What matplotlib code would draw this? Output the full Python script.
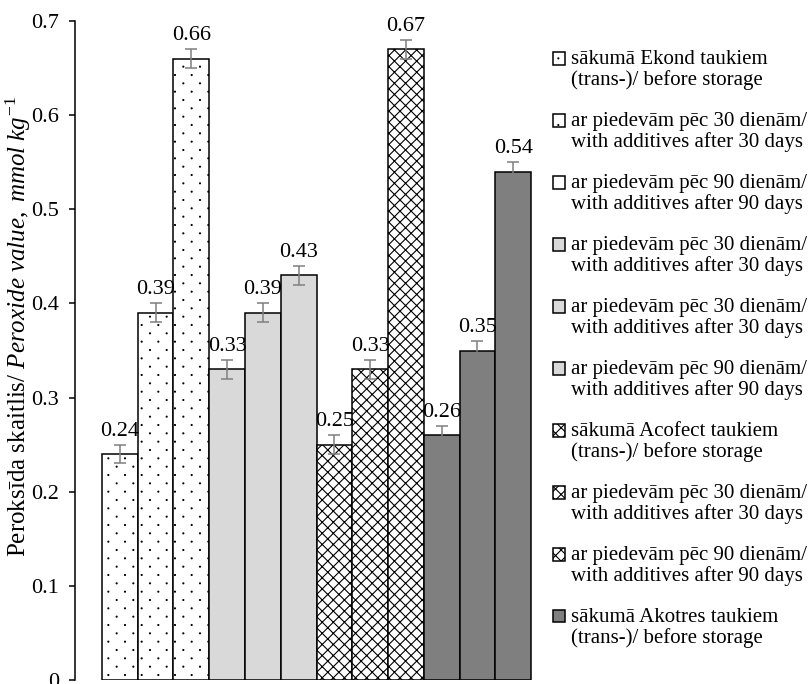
import numpy as np
import matplotlib
matplotlib.use("Agg")
import matplotlib.pyplot as plt
from matplotlib import hatch as mhatch
from matplotlib.path import Path
from matplotlib.patches import Rectangle
from matplotlib.container import BarContainer
from matplotlib.legend_handler import HandlerPatch, update_from_first_child

# peroxide value of the fats, 4 fats x 3 storage stages
values = [0.24, 0.39, 0.66, 0.33, 0.39, 0.43, 0.25, 0.33, 0.67, 0.26, 0.35, 0.54]
errors = [0.01] * 12

fill_colors = ["white"] * 3 + ["#d9d9d9"] * 3 + ["white"] * 3 + ["#7f7f7f"] * 3
hatches = ["."] * 3 + [None] * 3 + ["xxx"] * 3 + [None] * 3

lbl_start_ekond = "sākumā Ekond taukiem\n(trans-)/ before storage"
lbl_start_acofect = "sākumā Acofect taukiem\n(trans-)/ before storage"
lbl_start_akotres = "sākumā Akotres taukiem\n(trans-)/ before storage"
lbl_30 = "ar piedevām pēc 30 dienām/\nwith additives after 30 days"
lbl_90 = "ar piedevām pēc 90 dienām/\nwith additives after 90 days"
legend_labels = [lbl_start_ekond, lbl_30, lbl_90,
                 lbl_30, lbl_30, lbl_90,
                 lbl_start_acofect, lbl_30, lbl_90,
                 lbl_start_akotres, "_nolegend_", "_nolegend_"]

yticks = [0, 0.1, 0.2, 0.3, 0.4, 0.5, 0.6, 0.7]
ytick_labels = ["0", "0.1", "0.2", "0.3", "0.4", "0.5", "0.6", "0.7"]


# '.' hatch as small dots, rows twice as dense as columns, every other row shifted
class StaggeredDots(mhatch.HatchPatternBase):
    radius = 0.005

    def __init__(self, hatch, density):
        n = hatch.count('.') * density
        self.centres = []
        if n:
            for row in range(2 * n + 1):
                if row % 2 == 0:
                    cols = np.linspace(0, 1, n + 1)
                else:
                    cols = np.linspace(0.5 / n, 1 - 0.5 / n, n)
                self.centres += [(c, row / (2 * n)) for c in cols]
        circle = Path.unit_circle()
        self.dot_verts = circle.vertices * self.radius
        self.dot_codes = circle.codes
        self.num_vertices = len(self.centres) * len(self.dot_verts)

    def set_vertices_and_codes(self, vertices, codes):
        k = len(self.dot_verts)
        for i, (cx, cy) in enumerate(self.centres):
            vertices[i * k:(i + 1) * k] = self.dot_verts + [cx, cy]
            codes[i * k:(i + 1) * k] = self.dot_codes


mhatch._hatch_types[mhatch._hatch_types.index(mhatch.SmallFilledCircles)] = StaggeredDots

plt.rcParams['font.family'] = ['Liberation Serif', 'DejaVu Serif']
plt.rcParams['mathtext.fontset'] = 'custom'
plt.rcParams['mathtext.rm'] = 'Liberation Serif'
plt.rcParams['mathtext.it'] = 'Liberation Serif:italic'
plt.rcParams['hatch.linewidth'] = 0.8
plt.rcParams['hatch.color'] = 'black'

fig = plt.figure(figsize=(8.08, 6.84), dpi=100)
ax = fig.add_axes([75 / 808, 4 / 684, 483 / 808, 659 / 684])

x = np.arange(len(values))
for i in x:
    ax.bar(x[i], values[i], width=1.0, color=fill_colors[i], hatch=hatches[i],
           edgecolor="black", linewidth=1.1, label=legend_labels[i])

ax.errorbar(x, values, yerr=errors, fmt="none", ecolor="#7f7f7f",
            elinewidth=1.1, capsize=4.3, capthick=1.1)

for xi, v in zip(x, values):
    ax.annotate(f"{v:.2f}", (xi, v), xytext=(0, 16.5), textcoords="offset points",
                ha="center", va="center", fontsize=16)

ax.set_xlim(-1.255, 12.255)
ax.set_ylim(0, 0.7)
ax.set_yticks(yticks)
ax.set_yticklabels(ytick_labels, fontsize=16)
ax.set_xticks([])
ax.tick_params(axis="y", direction="out", length=4.3, width=1.1, pad=7)
for side in ["top", "right", "bottom"]:
    ax.spines[side].set_visible(False)
ax.spines["left"].set_linewidth(1.1)

ax.set_ylabel(r"Peroksīda skaitlis/ $\mathit{Peroxide\ value,\ mmol\ kg^{-1}}$",
              fontsize=18)
ax.yaxis.set_label_coords(-0.087, 0.536)


# legend square sits next to the first line of a two-line label
def first_line_patch(legend, orig_handle, xdescent, ydescent, width, height, fontsize):
    return Rectangle((-xdescent, -ydescent + 0.55 * fontsize), width, height)


bar_handler = HandlerPatch(patch_func=first_line_patch, update_func=update_from_first_child)
leg = ax.legend(loc="upper left", bbox_to_anchor=(553 / 808, 1 - 50 / 684),
                bbox_transform=fig.transFigure, frameon=False, fontsize=15,
                handlelength=0.58, handleheight=0.58, handletextpad=0.27,
                labelspacing=1.05, borderpad=0, borderaxespad=0,
                handler_map={BarContainer: bar_handler})
for t in leg.get_texts():
    t.set_linespacing(1.08)

fig.savefig("out.png", dpi=100)
